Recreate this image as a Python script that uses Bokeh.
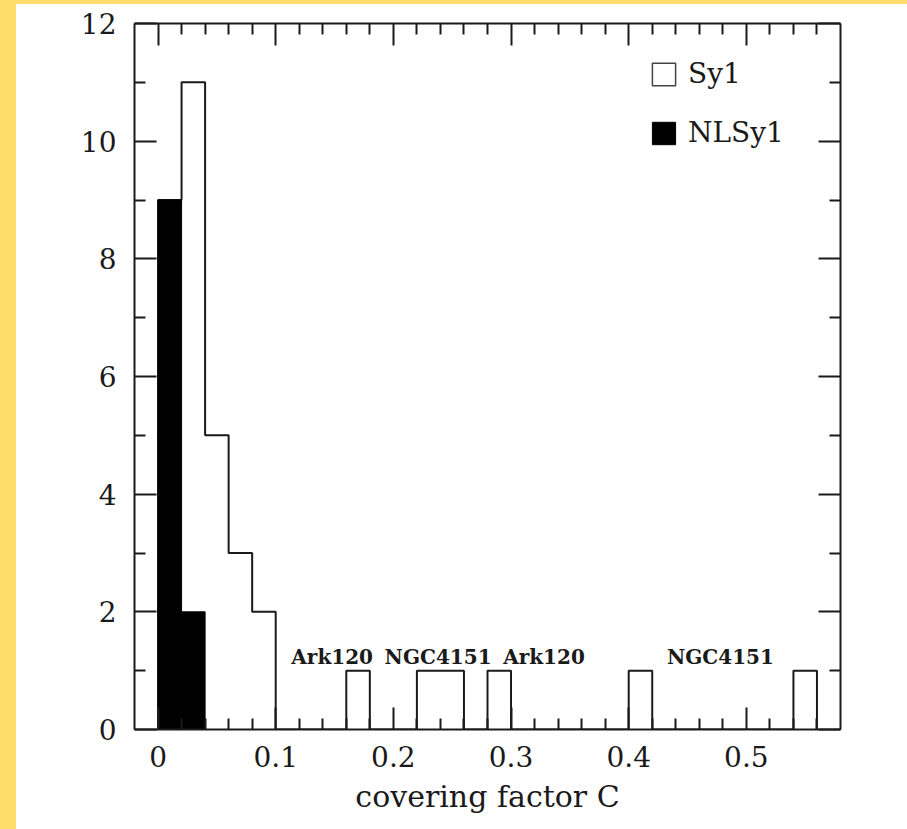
from bokeh.plotting import figure
from bokeh.models import LinearAxis, FixedTicker, Legend, LegendItem, Range1d, Spacer
from bokeh.layouts import row, column
from bokeh.core.properties import value
from bokeh.embed import file_html
from bokeh.resources import INLINE

# ---- data ----
bin_edges = [0.00, 0.02, 0.04, 0.06, 0.08, 0.10, 0.12, 0.14, 0.16, 0.18,
             0.20, 0.22, 0.24, 0.26, 0.28, 0.30, 0.32, 0.34, 0.36, 0.38,
             0.40, 0.42, 0.44, 0.46, 0.48, 0.50, 0.52, 0.54, 0.56]
sy1_counts = [9, 11, 5, 3, 2, 0, 0, 0, 1, 0,
              0, 1, 1, 0, 1, 0, 0, 0, 0, 0,
              1, 0, 0, 0, 0, 0, 0, 1]
nlsy1_counts = [9, 2, 0, 0, 0, 0, 0, 0, 0, 0,
                0, 0, 0, 0, 0, 0, 0, 0, 0, 0,
                0, 0, 0, 0, 0, 0, 0, 0]
label_text = ["Ark120", "NGC4151", "Ark120", "NGC4151"]
label_x = [0.148, 0.238, 0.328, 0.478]
label_y = [1.24, 1.24, 1.24, 1.24]
x_ticks = [0, 0.1, 0.2, 0.3, 0.4, 0.5]
x_minor = [0.02, 0.04, 0.06, 0.08, 0.12, 0.14, 0.16, 0.18, 0.22, 0.24, 0.26, 0.28,
           0.32, 0.34, 0.36, 0.38, 0.42, 0.44, 0.46, 0.48, 0.52, 0.54, 0.56]
y_ticks = [0, 2, 4, 6, 8, 10, 12]
y_minor = [1, 3, 5, 7, 9, 11]

YELLOW = "#FFDD6B"
INK = "#1a1a1a"
FONT = "DejaVu Serif"

p = figure(width=891, height=825,
           x_range=Range1d(-0.02, 0.58), y_range=Range1d(0, 12),
           output_backend="svg", toolbar_location=None,
           x_axis_type=None, y_axis_type=None,
           min_border_left=118, min_border_right=67,
           min_border_top=19, min_border_bottom=100)
p.outline_line_color = None
p.background_fill_color = "white"
p.border_fill_color = "white"

# Sy1 bars (invisible, used for the legend swatch)
sy_l = [bin_edges[i] for i, c in enumerate(sy1_counts) if c > 0]
sy_r = [bin_edges[i + 1] for i, c in enumerate(sy1_counts) if c > 0]
sy_t = [c for c in sy1_counts if c > 0]
r_sy1 = p.quad(left=sy_l, right=sy_r, top=sy_t, bottom=0,
               fill_color="white", line_color="#444444", line_width=1.5)
r_sy1.visible = False

# step outline for Sy1
xs = [bin_edges[0]]
ys = [0]
for i, c in enumerate(sy1_counts):
    xs += [bin_edges[i], bin_edges[i + 1]]
    ys += [c, c]
xs.append(bin_edges[-1])
ys.append(0)
p.line(xs, ys, line_color=INK, line_width=2)

# filled NLSy1
lefts = [bin_edges[i] for i, c in enumerate(nlsy1_counts) if c > 0]
rights = [bin_edges[i + 1] for i, c in enumerate(nlsy1_counts) if c > 0]
tops = [c for c in nlsy1_counts if c > 0]
r_nl = p.quad(left=lefts, right=rights, top=tops, bottom=0,
              fill_color="black", line_color="black", line_width=1)

p.text(x=label_x, y=label_y, text=label_text, text_font=value(FONT),
       text_font_style="bold", text_font_size="20px", text_align="center",
       text_baseline="alphabetic", text_color=INK)

def style(ax, labels, ticker_major, ticker_minor, standoff):
    ax.ticker = FixedTicker(ticks=ticker_major, minor_ticks=ticker_minor)
    ax.axis_line_width = 2
    ax.axis_line_color = INK
    ax.major_tick_in = 22
    ax.major_tick_out = 0
    ax.minor_tick_in = 11
    ax.minor_tick_out = 0
    ax.major_tick_line_width = 2
    ax.minor_tick_line_width = 2
    ax.major_tick_line_color = INK
    ax.minor_tick_line_color = INK
    ax.major_label_text_font = FONT
    ax.major_label_text_color = INK
    if labels:
        ax.major_label_text_font_size = "28px"
        ax.major_label_standoff = standoff
    else:
        ax.major_label_text_font_size = "1px"
        ax.major_label_standoff = 0
        ax.major_label_overrides = {t: "" for t in ticker_major}

xb = LinearAxis()
style(xb, True, x_ticks, x_minor, 16)
xb.major_label_overrides = {0: "0"}
xb.axis_label = "covering factor C"
xb.axis_label_text_font = FONT
xb.axis_label_text_font_style = "normal"
xb.axis_label_text_font_size = "30px"
xb.axis_label_text_color = INK
xb.axis_label_standoff = 9
p.add_layout(xb, "below")

xt = LinearAxis()
style(xt, False, x_ticks, x_minor, 0)
p.add_layout(xt, "above")

yl = LinearAxis()
style(yl, True, y_ticks, y_minor, 18)
p.add_layout(yl, "left")

yr = LinearAxis()
style(yr, False, y_ticks, y_minor, 0)
p.add_layout(yr, "right")

legend = Legend(items=[LegendItem(label="Sy1", renderers=[r_sy1]),
                       LegendItem(label="NLSy1", renderers=[r_nl])],
                location=(515, 580), glyph_width=29, glyph_height=28, label_height=28,
                spacing=26, padding=0, margin=0, border_line_color=None,
                background_fill_alpha=0, label_text_font=FONT, label_text_font_size="28px",
                label_standoff=10, label_text_color=INK)
p.add_layout(legend)

left_bar = Spacer(width=16, height=829, styles={"background-color": YELLOW})
top_bar = Spacer(width=891, height=4, styles={"background-color": YELLOW})
root = row(left_bar, column(top_bar, p, spacing=0), spacing=0)

open("out.html", "w").write(file_html(root, INLINE))
